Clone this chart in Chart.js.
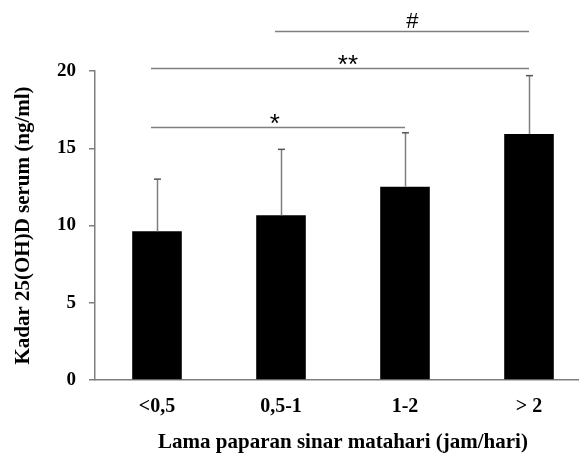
<!DOCTYPE html>
<html>
<head>
<meta charset="utf-8">
<script src="https://cdn.jsdelivr.net/npm/chart.js@4"></script>
<style>
html,body{margin:0;padding:0;background:#fff;overflow:hidden;}
#wrap{width:600px;height:455px;}
</style>
</head>
<body>
<div id="wrap"><canvas id="c" width="600" height="455"></canvas></div>
<script>
const categories = ['<0,5', '0,5-1', '1-2', '> 2'];
const means = [9.62, 10.66, 12.51, 15.92];
const sdUpper = [3.38, 4.27, 3.49, 3.78];
const yTicks = [0, 5, 10, 15, 20];
// significance brackets: from category, to category, level (ng/ml), label, label position (category units)
const bracketFrom = [0, 0, 1];
const bracketTo = [2, 3, 3];
const bracketLevel = [16.4, 20.2, 22.6];
const bracketLabel = ['*', '**', '#'];
const bracketLabelAt = [0.95, 1.54, 2.06];

const GRAY = '#7f7f7f';
const serif = "'Liberation Serif', 'Times New Roman', serif";

const overlay = {
  id: 'overlay',
  afterDatasetsDraw(chart) {
    const ctx = chart.ctx;
    const x = chart.scales.x, y = chart.scales.y;
    const meta = chart.getDatasetMeta(0);
    ctx.save();
    // error bars (upper only)
    ctx.lineWidth = 1.5;
    meta.data.forEach((bar, i) => {
      const px = Math.round(bar.x) + 0.5;
      const top = y.getPixelForValue(means[i] + sdUpper[i]);
      ctx.strokeStyle = GRAY;
      ctx.beginPath();
      ctx.moveTo(px, bar.y);
      ctx.lineTo(px, top);
      ctx.stroke();
      ctx.strokeStyle = '#555';
      ctx.beginPath();
      ctx.moveTo(px - 3.5, top);
      ctx.lineTo(px + 3.5, top);
      ctx.stroke();
    });
    // brackets
    ctx.fillStyle = '#000';
    ctx.textAlign = 'center';
    ctx.textBaseline = 'alphabetic';
    for (let k = 0; k < bracketFrom.length; k++) {
      const x1 = x.getPixelForValue(bracketFrom[k]) - 6;
      const x2 = x.getPixelForValue(bracketTo[k]);
      const py = Math.round(y.getPixelForValue(bracketLevel[k])) + 0.5;
      ctx.strokeStyle = GRAY;
      ctx.lineWidth = 1.5;
      ctx.beginPath();
      ctx.moveTo(x1, py);
      ctx.lineTo(x2, py);
      ctx.stroke();
      const tx = x.getPixelForValue(0) + (x.getPixelForValue(1) - x.getPixelForValue(0)) * bracketLabelAt[k];
      const isHash = bracketLabel[k] === '#';
      ctx.font = isHash ? "22px 'Liberation Sans', Arial, sans-serif" : "26px 'Liberation Sans', Arial, sans-serif";
      ctx.fillText(bracketLabel[k], tx, py + (isHash ? -4 : 4));
    }
    ctx.restore();
  }
};

new Chart(document.getElementById('c'), {
  type: 'bar',
  data: {
    labels: categories,
    datasets: [{
      data: means,
      backgroundColor: '#000',
      borderWidth: 0,
      barPercentage: 0.4,
      categoryPercentage: 1.0
    }]
  },
  options: {
    responsive: false,
    animation: false,
    events: [],
    layout: { padding: { left: 0, right: 9, top: 71, bottom: 0 } },
    plugins: { legend: { display: false }, tooltip: { enabled: false } },
    scales: {
      x: {
        grid: { display: false, drawTicks: false },
        border: { display: true, color: GRAY, width: 1.5 },
        ticks: {
          color: '#000',
          padding: 15,
          font: { family: serif, size: 20, weight: 'bold' }
        },
        title: {
          display: true,
          text: 'Lama paparan sinar matahari (jam/hari)',
          color: '#000',
          font: { family: serif, size: 21, weight: 'bold' },
          padding: { top: 0, bottom: 0 }
        },
        afterFit(scale) { scale.height = 75; }
      },
      y: {
        min: 0,
        max: 20,
        afterBuildTicks(scale) { scale.ticks = yTicks.map(v => ({ value: v })); },
        grid: { display: true, drawOnChartArea: false, drawTicks: true, tickLength: 6, color: GRAY, lineWidth: 1.5 },
        border: { display: true, color: GRAY, width: 1.5 },
        ticks: {
          color: '#000',
          padding: 13,
          font: { family: serif, size: 19, weight: 'bold' }
        },
        title: {
          display: true,
          text: 'Kadar 25(OH)D serum (ng/ml)',
          color: '#000',
          font: { family: serif, size: 21, weight: 'bold' },
          padding: { top: 11, bottom: 0 }
        },
        afterFit(scale) { scale.width = 95; }
      }
    }
  },
  plugins: [overlay]
});
</script>
</body>
</html>
